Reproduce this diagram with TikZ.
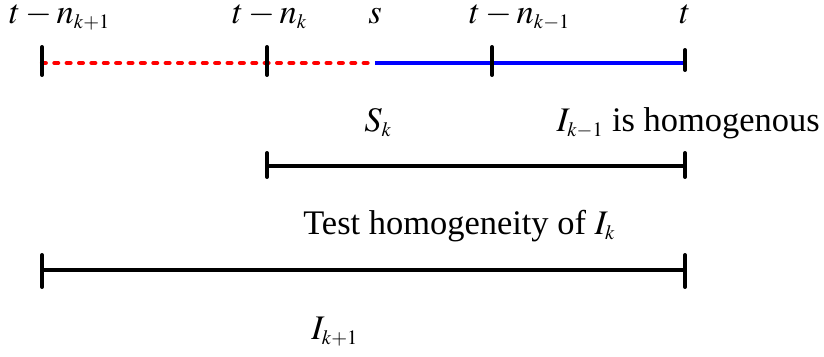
\documentclass[tikz,border=0pt]{standalone}
\usepackage{mathptmx}
\usepackage{fontspec}
\setmainfont{Liberation Serif}
\DeclareMathSizes{24.5}{24.5}{14.5}{10}
\usetikzlibrary{positioning}

\begin{document}
\begin{tikzpicture}[
    x=0.025cm, y=-0.025cm,
    every node/.style={font=\fontsize{24.5}{29}\selectfont, inner sep=0pt},
    tickmark/.style={line width=2.8pt, line cap=round},
    bar/.style={line width=3.2pt},
    past/.style={red, line width=3pt, dash pattern=on 2.7pt off 6.1pt, line cap=round},
    recent/.style={blue, line width=3.2pt}
]
\useasboundingbox (0,0) rectangle (824,356);

% time axis
\coordinate (nk1) at (42,63);
\coordinate (nk) at (267,63);
\coordinate (s) at (375,63);
\coordinate (nkm1) at (492,63);
\coordinate (t) at (685,63);

\draw[past] (nk1) -- (s);
\draw[recent] (s) -- (t);
\foreach \p in {nk1,nk,nkm1} \draw[tickmark] (\p) ++(0,-16) -- ++(0,28);
\draw[tickmark] (t) ++(0,-13) -- ++(0,20);

\node[anchor=base west] (lnk1) at (9,23) {$t-n_{k+1}$};
\node[anchor=base west] (lnk) at (232,23) {$t-n_{k}$};
\node[anchor=base] (ls) at (375,23) {$s$};
\node[anchor=base west] (lnkm1) at (469,23) {$t-n_{k-1}$};
\node[anchor=base] (lt) at (685,23) {$t$};

\node[anchor=base] (sk) at (378,131) {$S_{k}$};
\node[anchor=base east] (homog) at (820,131) {$I_{k-1}$ is homogenous};

% interval I_k
\coordinate (ik0) at (267,166);
\coordinate (ik1) at (685,166);
\draw[bar] (ik0) -- (ik1);
\foreach \p in {ik0,ik1} \draw[tickmark] (\p) ++(0,-13) -- ++(0,24);
\node[anchor=base west] (test) at (303,234) {Test homogeneity of $I_{k}$};

% interval I_{k+1}
\coordinate (ikp0) at (42,270);
\coordinate (ikp1) at (685,270);
\draw[bar] (ikp0) -- (ikp1);
\foreach \p in {ikp0,ikp1} \draw[tickmark] (\p) ++(0,-15) -- ++(0,32);
\node[anchor=base west] (ikp) at (311,339) {$I_{k+1}$};
\end{tikzpicture}
\end{document}
